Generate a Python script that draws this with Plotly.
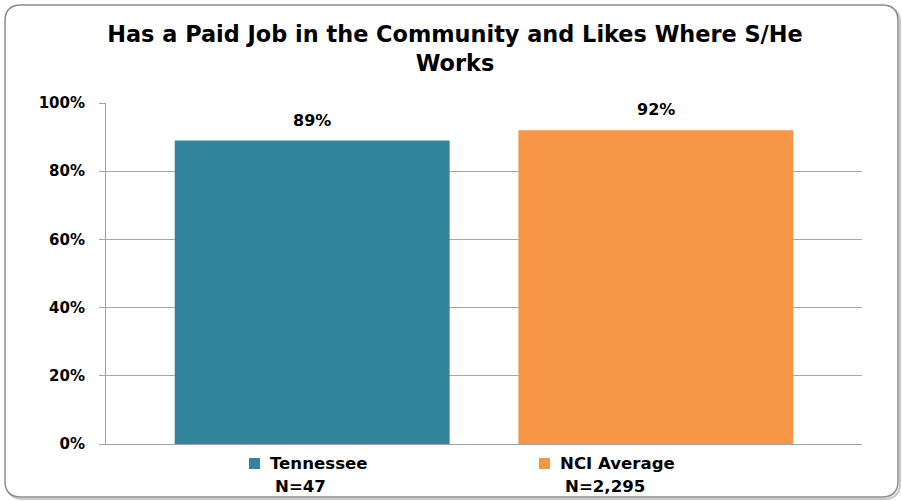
import plotly.graph_objects as go

# ---- data ----
categories = ["Tennessee", "NCI Average"]
values = [0.89, 0.92]
value_labels = ["89%", "92%"]
sample_sizes = ["N=47", "N=2,295"]
colors = ["#31849B", "#F79646"]
title_lines = ["Has a Paid Job in the Community and Likes Where S/He", "Works"]
y_ticks = [0, 0.2, 0.4, 0.6, 0.8, 1.0]

W, H = 902, 501
L, R, T, B = 106, 40, 103, 57
PW, PH = W - L - R, H - T - B
FONT = "DejaVu Sans"


def px_x(px):
    return (px - L) / PW


def px_y(py):
    return (H - B - py) / PH


fig = go.Figure()
fig.add_trace(go.Bar(
    x=categories, y=values,
    marker=dict(color=colors, line=dict(width=0)),
    showlegend=False, hoverinfo="skip",
))

annotations = []
for c, v, t in zip(categories, values, value_labels):
    annotations.append(dict(x=c, y=v, xref="x", yref="y", text=f"<b>{t}</b>",
                            showarrow=False, yanchor="bottom", yshift=9,
                            font=dict(family=FONT, size=16, color="#000000")))

# legend-like labels beneath the bars
legend_x = [249, 539]
shapes = []
for lx, name, n, col in zip(legend_x, categories, sample_sizes, colors):
    shapes.append(dict(type="rect", xref="paper", yref="paper",
                       x0=px_x(lx), x1=px_x(lx + 11), y0=px_y(469), y1=px_y(458),
                       fillcolor=col, line=dict(width=0)))
    annotations.append(dict(x=px_x(lx + 19), y=px_y(463), xref="paper", yref="paper",
                            text=f"<b>{name}</b>", showarrow=False, xanchor="left",
                            yanchor="middle",
                            font=dict(family=FONT, size=16.6, color="#000000")))
    annotations.append(dict(x=px_x(lx + 24), y=px_y(487), xref="paper", yref="paper",
                            text=f"<b>{n}</b>", showarrow=False, xanchor="left",
                            yanchor="middle",
                            font=dict(family=FONT, size=16.6, color="#000000")))


def rounded_path(x0, y0, x1, y1, r):
    pts = [
        f"M{px_x(x0 + r)},{px_y(y0)}",
        f"L{px_x(x1 - r)},{px_y(y0)}",
        f"Q{px_x(x1)},{px_y(y0)} {px_x(x1)},{px_y(y0 + r)}",
        f"L{px_x(x1)},{px_y(y1 - r)}",
        f"Q{px_x(x1)},{px_y(y1)} {px_x(x1 - r)},{px_y(y1)}",
        f"L{px_x(x0 + r)},{px_y(y1)}",
        f"Q{px_x(x0)},{px_y(y1)} {px_x(x0)},{px_y(y1 - r)}",
        f"L{px_x(x0)},{px_y(y0 + r)}",
        f"Q{px_x(x0)},{px_y(y0)} {px_x(x0 + r)},{px_y(y0)}",
        "Z",
    ]
    return " ".join(pts)


# shadow and border of the chart area
shapes.insert(0, dict(type="path", xref="paper", yref="paper",
                      path=rounded_path(7, 7, 900, 499, 16),
                      line=dict(color="#C8C8C8", width=2), layer="below"))
shapes.insert(1, dict(type="path", xref="paper", yref="paper",
                      path=rounded_path(5, 5, 898, 497, 16),
                      fillcolor="#FFFFFF",
                      line=dict(color="#8C8C8C", width=1.5), layer="below"))

fig.update_layout(
    width=W, height=H,
    margin=dict(l=L, r=R, t=T, b=B, pad=0),
    paper_bgcolor="rgba(0,0,0,0)",
    plot_bgcolor="#EAEAEA",
    bargap=0.2,
    title=dict(text="<b>" + "<br>".join(title_lines) + "</b>",
               x=455 / W, xanchor="center", xref="container",
               y=1 - 42 / H, yanchor="middle", yref="container",
               font=dict(family=FONT, size=22.4, color="#000000")),
    xaxis=dict(range=[-0.6, 1.6], showticklabels=False, ticks="",
               showgrid=False, zeroline=False,
               showline=True, linecolor="#A0A0A0", linewidth=1),
    yaxis=dict(range=[0, 1], tickvals=y_ticks, tickformat=".0%",
               showgrid=True, gridcolor="#A6A6A6", gridwidth=1,
               zeroline=False, showline=True, linecolor="#A0A0A0", linewidth=1,
               ticks="outside", ticklen=6, tickcolor="#A0A0A0",
               ticklabelstandoff=11,
               tickfont=dict(family=FONT, size=15, color="#000000", weight="bold")),
    shapes=shapes,
    annotations=annotations,
    font=dict(family=FONT),
)

fig.write_html("out.html",
               config={"displayModeBar": False},
               post_script="document.body.style.margin='0';document.body.style.padding='0';")
